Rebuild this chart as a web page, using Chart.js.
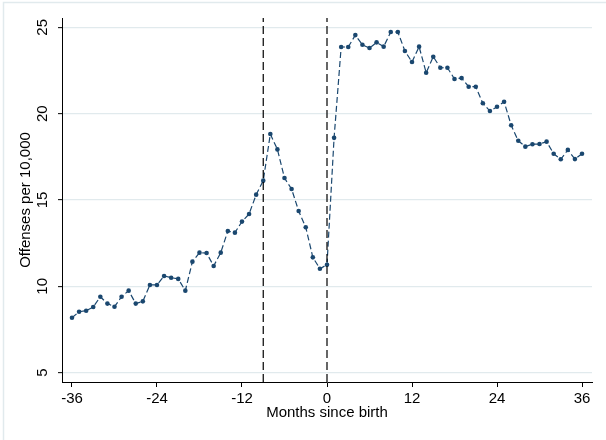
<!DOCTYPE html>
<html>
<head>
<meta charset="utf-8">
<script src="https://cdn.jsdelivr.net/npm/chart.js@4.4.1/dist/chart.umd.min.js"></script>
<style>
  html, body { margin: 0; padding: 0; background: #fff; }
  #wrap { width: 606px; height: 440px; position: relative; }
</style>
</head>
<body>
<div id="wrap"><canvas id="c"></canvas></div>
<script>
// Monthly offense rates around the month of birth
const months = [
  -36, -35, -34, -33, -32, -31, -30, -29, -28, -27, -26, -25,
  -24, -23, -22, -21, -20, -19, -18, -17, -16, -15, -14, -13,
  -12, -11, -10, -9, -8, -7, -6, -5, -4, -3, -2, -1,
  0, 1, 2, 3, 4, 5, 6, 7, 8, 9, 10, 11,
  12, 13, 14, 15, 16, 17, 18, 19, 20, 21, 22, 23,
  24, 25, 26, 27, 28, 29, 30, 31, 32, 33, 34, 35, 36
];
const offenses = [
  8.18, 8.53, 8.59, 8.80, 9.40, 9.00, 8.82, 9.40, 9.75, 9.00, 9.13, 10.08,
  10.08, 10.60, 10.50, 10.43, 9.75, 11.43, 11.95, 11.93, 11.18, 11.95, 13.20, 13.11,
  13.75, 14.19, 15.31, 16.12, 18.82, 17.93, 16.27, 15.64, 14.36, 13.42, 11.68, 11.02,
  11.25, 18.60, 23.86, 23.86, 24.55, 23.99, 23.80, 24.13, 23.88, 24.73, 24.73, 23.63,
  22.99, 23.88, 22.37, 23.30, 22.66, 22.66, 22.01, 22.06, 21.56, 21.56, 20.60, 20.15,
  20.40, 20.69, 19.33, 18.43, 18.09, 18.23, 18.24, 18.38, 17.68, 17.36, 17.90, 17.37, 17.68
];
const xTicks = [-36, -24, -12, 0, 12, 24, 36];
const yTicks = [5, 10, 15, 20, 25];
const eventMonths = [-9, 0];       // reference lines: conception window / birth
const xTitle = 'Months since birth';
const yTitle = 'Offenses per 10,000';

const xMin = -37.41, xMax = 37.41;
const yMin = 4.46, yMax = 25.54;

const FONT = '"Liberation Sans", Arial, Helvetica, sans-serif';
const NAVY = '#1a476f';
const GRID = '#e1eaed';

Chart.defaults.font.family = FONT;
Chart.defaults.font.size = 15;
Chart.defaults.color = '#000';

const seriesPoints = months.map((m, i) => ({ x: m, y: offenses[i] }));

const refLineSets = eventMonths.map(m => ({
  data: [{ x: m, y: yMin }, { x: m, y: yMax }],
  borderColor: '#000',
  borderWidth: 1.2,
  borderDash: [8, 4],
  pointRadius: 0,
  fill: false,
  tension: 0
}));

// Outer graph-region frame
const framePlugin = {
  id: 'frame',
  beforeDraw(chart) {
    const ctx = chart.ctx;
    ctx.save();
    ctx.fillStyle = '#fff';
    ctx.fillRect(0, 0, chart.width, chart.height);
    ctx.strokeStyle = GRID;
    ctx.lineWidth = 1.5;
    ctx.strokeRect(3.5, 2.5, chart.width + 20, chart.height + 20);
    ctx.restore();
  }
};

// Vertical-axis tick labels, rotated to read upward
const yLabelPlugin = {
  id: 'yLabels',
  afterDraw(chart) {
    const ys = chart.scales.y;
    const ctx = chart.ctx;
    ctx.save();
    ctx.font = '15px ' + FONT;
    ctx.fillStyle = '#000';
    ctx.textAlign = 'center';
    ctx.textBaseline = 'middle';
    ys.ticks.forEach(t => {
      const py = ys.getPixelForValue(t.value);
      ctx.save();
      ctx.translate(43, py);
      ctx.rotate(-Math.PI / 2);
      ctx.fillText(String(t.value), 0, 0);
      ctx.restore();
    });
    ctx.restore();
  }
};

new Chart(document.getElementById('c'), {
  type: 'line',
  data: {
    datasets: [
      ...refLineSets,
      {
        data: seriesPoints,
        borderColor: NAVY,
        borderWidth: 1.2,
        borderDash: [6, 3],
        pointRadius: 2.3,
        pointBackgroundColor: NAVY,
        pointBorderWidth: 0,
        fill: false,
        tension: 0
      }
    ]
  },
  options: {
    responsive: true,
    maintainAspectRatio: false,
    animation: false,
    events: [],
    layout: { padding: { left: 0, right: 14, top: 18, bottom: 0 } },
    plugins: { legend: { display: false }, tooltip: { enabled: false } },
    scales: {
      x: {
        type: 'linear',
        min: xMin,
        max: xMax,
        afterBuildTicks(scale) { scale.ticks = xTicks.map(v => ({ value: v })); },
        afterFit(scale) { scale.height = 58; },
        ticks: { padding: 3, maxRotation: 0, autoSkip: false, color: '#000' },
        grid: { display: true, drawOnChartArea: false, tickLength: 5, tickColor: '#000', tickWidth: 1 },
        border: { display: true, color: '#000', width: 1 },
        title: { display: true, text: xTitle, color: '#000', font: { size: 15 }, padding: { top: 0, bottom: 18 } }
      },
      y: {
        type: 'linear',
        min: yMin,
        max: yMax,
        afterBuildTicks(scale) { scale.ticks = yTicks.map(v => ({ value: v })); },
        afterFit(scale) { scale.width = 62; },
        ticks: { display: false },
        grid: { display: true, drawOnChartArea: true, color: GRID, lineWidth: 1.3, tickLength: 4, tickColor: '#000', tickWidth: 1 },
        border: { display: true, color: '#000', width: 1 },
        title: { display: true, text: yTitle, color: '#000', font: { size: 15 }, padding: { top: 17, bottom: 0 } }
      }
    }
  },
  plugins: [framePlugin, yLabelPlugin]
});
</script>
</body>
</html>
